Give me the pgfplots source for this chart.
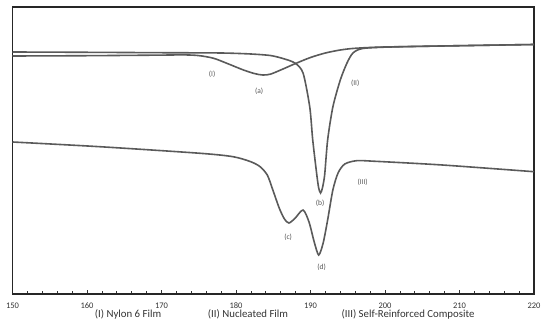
\documentclass[border=0pt]{standalone}
\usepackage{pgfplots}
\pgfplotsset{compat=1.18}
\usepackage{fontspec}
\setmainfont{Carlito}
\definecolor{curve}{HTML}{5A5A5A}
\definecolor{lbl}{HTML}{555555}
\definecolor{txt}{HTML}{333333}
\begin{document}
\begin{tikzpicture}[x=1pt,y=1pt]
\useasboundingbox (0,0) rectangle (550,332);
\begin{axis}[
  at={(12.5pt,38pt)}, anchor=south west,
  scale only axis, width=521.5pt, height=287pt,
  xmin=150, xmax=220, ymin=-294, ymax=-7,
  xtick={150,160,...,220}, minor x tick num=4,
  ytick=\empty, xtick pos=bottom,
  tick align=inside,
  major tick length=3.5pt, minor tick length=3pt,
  axis line style={line width=1.3pt, black!85},
  every tick/.style={black!80, line width=0.7pt},
  xticklabel style={font=\fontsize{8.5}{10}\selectfont, text=txt, yshift=-5pt},
  /pgf/number format/assume math mode=true,
  clip=false,
]
% (I) Nylon 6 film
\addplot[curve, line width=1.6pt, smooth, tension=0.5] coordinates {
(150,-56) (160,-55.7) (170,-55.1) (173,-54.9) (175,-55.6) (177,-58.3) (179,-64)
(181,-70) (182.5,-73.6) (183.6,-75) (184.6,-74.2) (186,-70) (188,-63.5)
(190,-57.5) (192,-53) (194,-50) (196,-48.3) (200,-47) (210,-45.7) (220,-44.5)
};
% (II) Nucleated film
\addplot[curve, line width=1.6pt, smooth, tension=0.45] coordinates {
(150,-52) (160,-52.3) (170,-52.7) (178,-53) (182,-54) (184.6,-55.5) (186.3,-58.5)
(187.9,-63) (189,-73) (189.9,-107) (190.3,-140) (190.85,-175) (191.1,-188)
(191.35,-193) (191.6,-188) (191.9,-175) (192.3,-140) (193,-107) (194,-80)
(194.9,-63) (195.7,-53) (197,-48.5) (200.7,-47) (210,-45.7) (220,-44.5)
};
% (III) Self-reinforced composite
\addplot[curve, line width=1.6pt, smooth, tension=0.45] coordinates {
(150,-142) (161.7,-146.7) (175.2,-153.3) (179.6,-156.7) (181.9,-161.5)
(183.2,-166.5) (184.2,-175) (184.9,-189) (185.8,-208) (186.5,-219) (187.1,-223)
(187.9,-218.5) (189,-210) (189.8,-222) (190.5,-242) (191.1,-255) (191.7,-243)
(192.3,-220) (193,-190) (193.7,-173) (194.6,-164) (196.2,-160.7) (198.7,-161.3)
(207.7,-165) (220,-171.7)
};
\begin{scope}[every node/.style={font=\fontsize{7.5}{8}\selectfont, text=lbl}]
\node at (axis cs:176.8,-74) {(I)};
\node at (axis cs:183.1,-91) {(a)};
\node at (axis cs:196.0,-83) {(II)};
\node at (axis cs:191.3,-203) {(b)};
\node at (axis cs:197.0,-182) {(III)};
\node at (axis cs:187.0,-237) {(c)};
\node at (axis cs:191.5,-267) {(d)};
\end{scope}
\end{axis}
\begin{scope}[every node/.style={font=\fontsize{10.8}{12}\selectfont, text=txt}]
\node at (128,18) {(I) Nylon 6 Film};
\node at (248,18) {(II) Nucleated Film};
\node at (408,18) {(III) Self-Reinforced Composite};
\end{scope}
\end{tikzpicture}
\end{document}
